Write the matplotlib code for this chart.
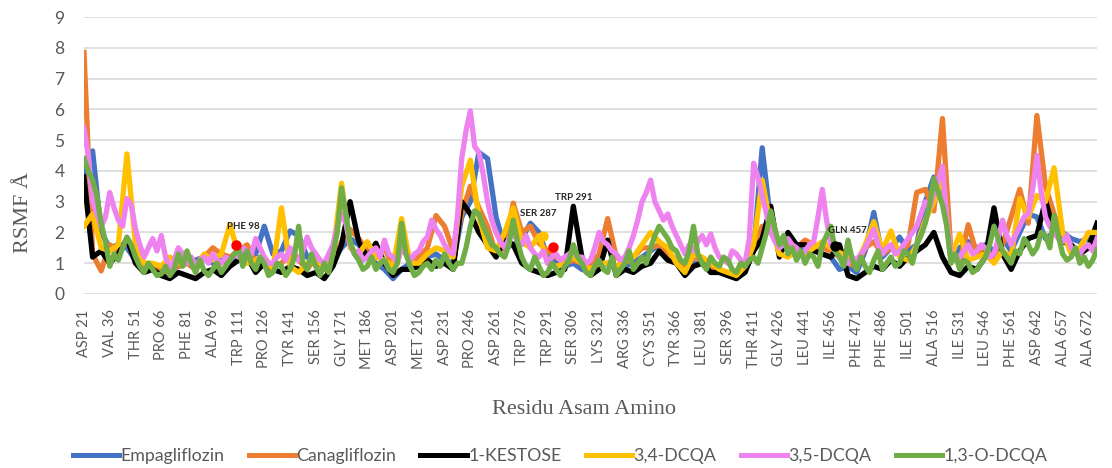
import matplotlib.pyplot as plt
from matplotlib.lines import Line2D

# ---------------------------------------------------------------------
# Data
# ---------------------------------------------------------------------
tick_labels = ["ASP 21", "VAL 36", "THR 51", "PRO 66", "PHE 81", "ALA 96",
               "TRP 111", "PRO 126", "TYR 141", "SER 156", "GLY 171",
               "MET 186", "ASP 201", "MET 216", "ASP 231", "PRO 246",
               "ASP 261", "TRP 276", "TRP 291", "SER 306", "LYS 321",
               "ARG 336", "CYS 351", "TYR 366", "LEU 381", "SER 396",
               "THR 411", "GLY 426", "LEU 441", "ILE 456", "PHE 471",
               "PHE 486", "ILE 501", "ALA 516", "ILE 531", "LEU 546",
               "PHE 561", "ASP 642", "ALA 657", "ALA 672"]
tick_pos = [15 * i for i in range(len(tick_labels))]

# coarse series: one point every 5 residues, fine ones every 2.5
pos_coarse = [5 * i for i in range(119)]
pos_fine = [2.5 * i for i in range(237)]

empagliflozin = [
    3.9, 4.65, 2.0, 1.5, 1.6, 1.5, 1.1, 0.8, 0.9, 0.7,
    0.8, 0.9, 1.0, 1.1, 1.2, 1.0, 1.1, 1.0, 1.4, 1.3,
    1.3, 2.2, 1.3, 1.4, 2.05, 1.9, 1.2, 1.0, 0.9, 1.1,
    1.5, 1.8, 1.6, 1.2, 1.0, 0.8, 0.5, 0.8, 1.0, 1.1,
    1.2, 1.3, 1.1, 1.0, 2.5, 3.0, 4.6, 4.4, 2.5, 1.5,
    1.6, 1.8, 2.3, 2.0, 1.2, 1.0, 0.9, 1.0, 0.8, 0.7,
    0.9, 1.0, 0.8, 0.9, 1.0, 1.2, 1.4, 1.6, 1.4, 1.0,
    0.8, 1.0, 1.0, 0.9, 0.7, 0.6, 0.5, 0.8, 1.4, 4.75,
    2.3, 1.4, 1.5, 1.6, 1.3, 1.5, 1.3, 1.2, 0.8, 0.9,
    0.7, 1.4, 2.65, 1.2, 1.5, 1.85, 1.4, 1.6, 3.0, 3.8,
    3.5, 1.1, 1.5, 1.7, 1.5, 1.6, 1.4, 1.8, 1.4, 2.0,
    2.6, 2.5, 1.8, 2.0, 2.0, 1.8, 1.7, 1.8, 1.9]

canagliflozin = [
    7.85, 1.3, 0.75, 1.6, 1.4, 1.7, 1.3, 0.8, 0.9, 0.7,
    0.8, 0.9, 1.0, 0.8, 1.2, 1.5, 1.3, 1.2, 1.4, 1.6,
    1.0, 0.9, 0.9, 1.0, 1.3, 1.1, 0.8, 1.2, 0.8, 1.0,
    1.7, 2.1, 1.8, 1.4, 1.3, 1.5, 0.9, 1.5, 1.1, 1.2,
    1.5, 2.55, 2.2, 1.4, 2.6, 3.5, 2.8, 2.2, 1.3, 1.5,
    2.95, 2.0, 2.2, 1.65, 1.4, 1.2, 1.0, 1.1, 1.0, 0.9,
    1.3, 2.45, 1.2, 1.0, 1.2, 1.5, 1.5, 1.6, 1.3, 1.1,
    0.8, 1.2, 1.1, 0.9, 0.8, 0.7, 0.7, 0.8, 1.5, 2.2,
    2.2, 1.4, 1.6, 1.5, 1.75, 1.6, 1.5, 1.4, 1.2, 1.0,
    0.9, 1.5, 1.7, 1.3, 1.5, 1.3, 1.6, 3.3, 3.4, 2.7,
    5.7, 1.3, 1.0, 2.25, 1.3, 1.4, 1.2, 1.6, 2.5, 3.4,
    2.3, 5.8, 3.5, 2.6, 1.8, 1.5, 1.4, 1.6, 1.7]

kestose = [
    3.8, 1.2, 1.4, 1.0, 1.3, 1.8, 1.0, 0.7, 0.8, 0.6,
    0.5, 0.7, 0.6, 0.5, 0.7, 0.8, 0.6, 0.9, 1.1, 1.2,
    0.7, 1.0, 0.8, 0.7, 0.9, 0.8, 0.6, 0.7, 0.5, 0.9,
    1.6, 3.0, 1.7, 1.2, 1.65, 1.0, 0.6, 0.8, 0.8, 0.9,
    1.1, 0.9, 1.0, 0.8, 3.0, 2.6, 2.0, 1.6, 1.2, 1.75,
    1.6, 1.0, 0.8, 0.7, 0.6, 0.7, 0.8, 2.85, 1.2, 0.6,
    0.8, 1.75, 0.6, 0.8, 0.7, 0.9, 1.0, 1.4, 1.1, 1.0,
    0.6, 0.9, 1.0, 0.7, 0.7, 0.6, 0.5, 0.7, 1.4, 1.8,
    2.85, 1.2, 2.0, 1.6, 1.6, 1.4, 1.3, 1.2, 1.6, 0.6,
    0.5, 0.7, 0.9, 0.8, 1.1, 0.9, 1.2, 1.4, 1.6, 2.0,
    1.2, 0.7, 0.6, 0.9, 0.8, 1.2, 2.8, 1.3, 0.8, 1.4,
    1.8, 1.9, 3.05, 2.0, 1.7, 1.6, 1.3, 1.5, 2.3]

dcqa_34 = [
    2.2, 2.6, 1.5, 1.4, 1.6, 4.55, 1.6, 1.0, 1.0, 0.9,
    1.2, 1.0, 1.1, 0.9, 1.3, 1.1, 1.3, 2.25, 1.3, 1.0,
    1.1, 1.2, 0.8, 2.8, 0.9, 0.7, 1.0, 1.1, 0.9, 1.3,
    3.6, 1.5, 1.3, 1.7, 1.2, 1.1, 0.9, 2.45, 1.0, 1.0,
    1.3, 1.5, 1.4, 1.2, 3.5, 4.35, 2.5, 1.5, 1.4, 2.0,
    2.8, 1.7, 1.5, 1.9, 1.0, 0.9, 1.0, 1.2, 1.0, 0.8,
    1.0, 1.0, 0.9, 1.1, 1.2, 1.6, 2.0, 1.7, 1.5, 1.0,
    0.7, 1.3, 1.2, 1.0, 0.8, 0.7, 0.6, 0.9, 1.6, 3.7,
    2.2, 1.3, 1.2, 1.4, 1.3, 1.5, 1.7, 1.5, 1.35, 1.2,
    1.0, 1.6, 2.35, 1.4, 2.05, 1.2, 1.1, 1.6, 2.4, 3.0,
    3.8, 1.2, 1.95, 1.1, 1.2, 1.3, 1.0, 1.4, 1.2, 3.1,
    2.5, 3.2, 3.0, 4.1, 2.0, 1.3, 1.5, 2.0, 2.0]

dcqa_35 = [
    5.4, 4.5, 3.0, 2.6, 2.2, 2.5, 3.3, 2.8, 2.4, 2.2,
    3.1, 2.9, 2.1, 1.6, 1.2, 1.5, 1.8, 1.4, 1.9, 1.2,
    0.8, 1.1, 1.5, 1.3, 1.0, 1.2, 0.9, 1.1, 1.2, 1.0,
    1.3, 1.1, 1.0, 1.2, 1.1, 1.3, 1.2, 1.5, 1.4, 1.3,
    1.8, 1.5, 1.2, 1.0, 1.0, 1.2, 1.3, 1.1, 1.5, 1.3,
    1.1, 1.4, 1.85, 1.5, 1.3, 1.1, 1.0, 1.3, 1.6, 2.2,
    2.6, 2.3, 1.6, 1.3, 1.4, 1.1, 1.2, 1.4, 1.5, 1.2,
    1.75, 1.3, 1.2, 1.0, 1.5, 1.3, 1.1, 1.3, 1.4, 1.7,
    1.85, 2.4, 2.1, 1.9, 1.6, 1.4, 1.3, 2.5, 4.4, 5.3,
    5.95, 4.8, 4.6, 3.9, 3.0, 2.4, 2.0, 1.7, 1.5, 1.8,
    2.0, 1.7, 1.6, 1.9, 1.5, 1.3, 1.2, 1.4, 1.0, 1.2,
    1.3, 1.1, 1.2, 1.3, 1.4, 1.2, 1.2, 1.0, 1.1, 1.5,
    2.0, 1.7, 1.6, 1.4, 1.3, 1.1, 1.2, 1.5, 1.9, 2.4,
    3.0, 3.3, 3.7, 3.0, 2.7, 2.4, 2.6, 2.2, 1.9, 1.6,
    1.3, 1.6, 1.4, 1.7, 1.9, 1.6, 1.95, 1.5, 1.2, 1.1,
    1.0, 1.4, 1.3, 1.1, 1.0, 1.8, 4.25, 3.8, 3.2, 2.6,
    2.0, 1.7, 1.5, 1.6, 1.8, 1.6, 1.5, 1.3, 1.4, 1.6,
    1.7, 2.5, 3.4, 2.4, 1.6, 1.4, 1.2, 1.0, 1.0, 1.2,
    1.1, 1.3, 1.5, 1.8, 2.1, 1.6, 1.3, 1.5, 1.6, 1.3,
    1.4, 1.6, 1.8, 2.0, 2.2, 2.6, 3.0, 2.8, 3.3, 3.7,
    4.15, 2.4, 1.3, 1.1, 1.2, 1.4, 1.6, 1.3, 1.4, 1.6,
    1.5, 1.2, 1.3, 1.8, 2.4, 1.9, 1.6, 1.9, 2.2, 2.5,
    2.6, 3.4, 4.5, 3.3, 2.5, 2.2, 2.0, 1.8, 1.7, 1.9,
    1.5, 1.4, 1.3, 1.5, 1.6, 1.4, 1.8]

dcqa_13o = [
    4.4, 4.0, 3.7, 3.2, 2.3, 1.7, 0.9, 1.3, 1.1, 1.5,
    1.85, 1.6, 1.2, 0.9, 0.7, 1.0, 0.8, 0.6, 0.65, 0.9,
    0.6, 0.8, 1.3, 0.9, 1.4, 1.0, 0.7, 1.1, 0.75, 0.6,
    0.8, 1.0, 0.7, 0.9, 1.1, 1.3, 1.5, 0.9, 1.4, 1.0,
    0.8, 1.2, 1.0, 0.6, 0.7, 1.0, 0.9, 0.6, 0.8, 1.2,
    2.2, 1.0, 0.8, 1.3, 0.9, 0.6, 1.0, 0.7, 1.3, 2.0,
    3.45, 2.6, 1.7, 1.3, 1.1, 0.8, 0.9, 1.2, 0.8, 1.0,
    1.1, 0.8, 0.7, 1.0, 2.3, 1.3, 0.9, 0.6, 0.7, 0.9,
    1.0, 0.8, 1.1, 0.9, 1.3, 1.0, 0.8, 1.0, 1.0, 1.5,
    2.2, 2.7, 2.6, 2.2, 1.9, 1.6, 1.5, 1.3, 1.2, 1.6,
    2.4, 1.7, 1.2, 0.9, 0.8, 1.2, 0.9, 0.6, 0.7, 1.0,
    0.8, 0.6, 0.9, 1.1, 1.6, 1.2, 1.0, 0.7, 0.6, 0.9,
    1.1, 0.8, 0.7, 1.2, 0.6, 0.8, 1.0, 1.4, 0.8, 1.0,
    1.2, 1.0, 1.5, 1.9, 2.2, 2.0, 1.8, 1.5, 1.4, 1.1,
    1.0, 1.4, 2.2, 1.3, 1.0, 0.8, 1.2, 1.0, 0.9, 1.2,
    1.1, 0.8, 0.7, 1.0, 0.9, 1.1, 1.2, 1.0, 1.5, 2.0,
    2.7, 2.1, 1.6, 1.9, 1.3, 1.5, 1.1, 1.4, 1.0, 1.3,
    1.2, 0.9, 1.6, 1.9, 2.2, 1.4, 1.2, 0.9, 1.75, 1.1,
    0.8, 1.2, 0.9, 0.7, 1.1, 1.4, 0.8, 1.0, 1.2, 0.9,
    1.0, 1.4, 1.3, 1.0, 1.6, 1.9, 2.3, 2.9, 3.75, 3.3,
    2.9, 2.2, 1.0, 1.3, 0.8, 1.1, 1.0, 0.7, 0.8, 1.0,
    1.2, 1.6, 2.2, 1.8, 1.4, 1.2, 1.0, 1.4, 1.3, 1.8,
    1.6, 1.3, 1.5, 2.0, 1.9, 1.5, 2.55, 1.9, 1.3, 1.1,
    1.2, 1.5, 1.0, 1.2, 0.9, 1.1, 1.45]

series_names = ["Empagliflozin", "Canagliflozin", "1-KESTOSE",
                "3,4-DCQA", "3,5-DCQA", "1,3-O-DCQA"]
series_values = [empagliflozin, canagliflozin, kestose,
                 dcqa_34, dcqa_35, dcqa_13o]
series_pos = [pos_coarse, pos_coarse, pos_coarse,
              pos_coarse, pos_fine, pos_fine]
series_colors = ["#4472C4", "#ED7D31", "#000000",
                 "#FFC000", "#EE82EE", "#70AD47"]

# highlighted residues (marker x, marker y, colour) and their labels
marker_x = [88.8, 267.6, 273.4, 437.6]
marker_y = [1.60, 1.87, 1.54, 1.57]
marker_colors = ["#FF0000", "#FFC000", "#FF0000", "#000000"]

note_text = ["PHE 98", "SER 287", "TRP 291", "GLN 457"]
note_x = [93, 264.5, 285, 444.5]
note_y = [2.18, 2.63, 3.12, 2.05]

# ---------------------------------------------------------------------
# Figure
# ---------------------------------------------------------------------
W, H = 1112, 468
fig = plt.figure(figsize=(W / 100, H / 100), dpi=100)
ax = fig.add_axes([84 / W, 1 - 294 / H, 1013 / W, 277 / H])

for name, xs, vals, col in zip(series_names, series_pos, series_values,
                               series_colors):
    ax.plot(xs, vals, color=col, lw=3.8, label=name,
            solid_joinstyle="round", zorder=3)

for mx, my, mc in zip(marker_x, marker_y, marker_colors):
    ax.plot([mx], [my], "o", color=mc, ms=6.5, zorder=5)

for t, tx, ty in zip(note_text, note_x, note_y):
    ax.text(tx, ty, t, ha="center", va="center", fontsize=7,
            fontweight="bold", family="Lato", color="#262626", zorder=6)

ax.set_xlim(0, 590)
ax.set_ylim(0, 9)
ax.set_yticks(range(0, 10))
ax.set_xticks(tick_pos)
ax.set_xticklabels(tick_labels, rotation=90, fontsize=10.5, family="Lato",
                   color="#595959")
for lab in ax.get_yticklabels():
    lab.set_fontsize(12.5)
    lab.set_family("Lato")
    lab.set_color("#595959")
ax.tick_params(axis="both", length=0)
ax.tick_params(axis="y", pad=14)
ax.tick_params(axis="x", pad=11)
ax.grid(axis="y", color="#D9D9D9", lw=1.2, zorder=0)
ax.set_axisbelow(True)
for s in ax.spines.values():
    s.set_visible(False)

fig.text(24 / W, 1 - 213 / H, "RSMF Å", rotation=90, ha="center",
         va="center", fontsize=16, family="Liberation Serif", color="#595959")
fig.text(584 / W, 1 - 410 / H, "Residu Asam Amino", ha="center",
         va="center", fontsize=16, family="Liberation Serif", color="#595959")

handles = [Line2D([], [], color=c, lw=3.6) for c in series_colors]
leg = fig.legend(handles, series_names, loc="center", ncol=6,
                 bbox_to_anchor=(560 / W, 1 - 456 / H), frameon=False,
                 prop={"family": "Lato", "size": 12.8}, handlelength=2.6,
                 handletextpad=0.1, columnspacing=1.35)
for t in leg.get_texts():
    t.set_color("#595959")

fig.savefig("out.png", dpi=100)
